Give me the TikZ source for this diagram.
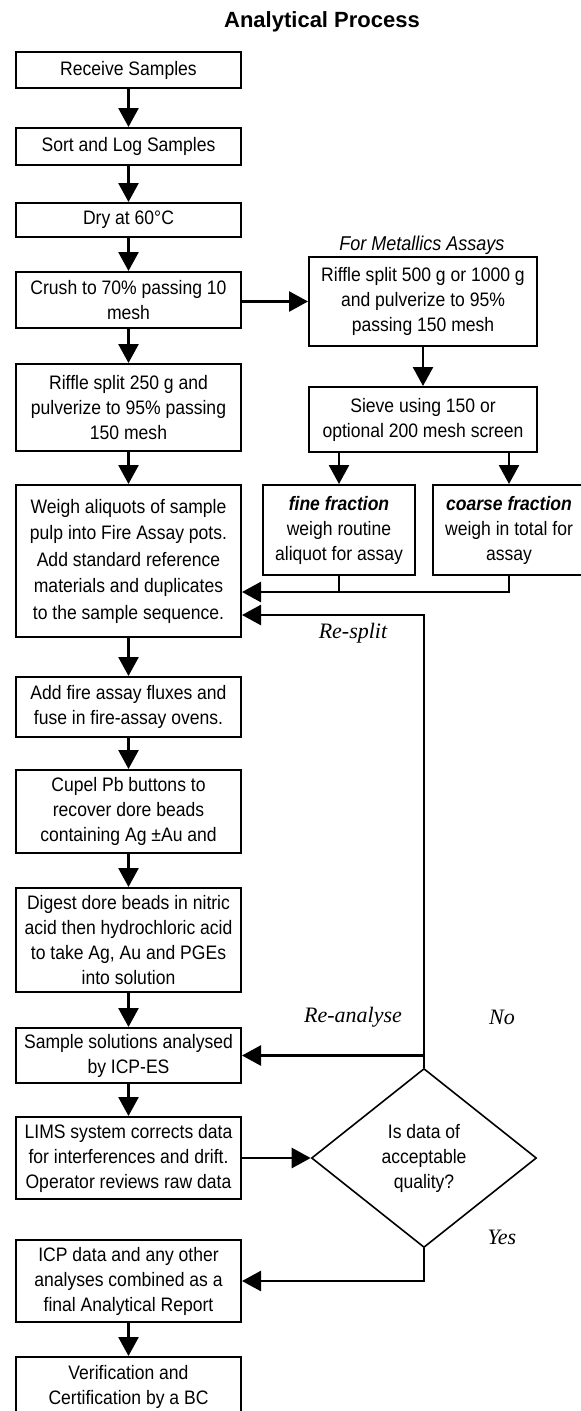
\documentclass[tikz,border=0pt]{standalone}
\usepackage{fontspec}
\setmainfont{Liberation Sans}[FakeStretch=0.9]
\newfontfamily\titlefont{Liberation Sans}
\newfontfamily\labfont{Liberation Serif}
\usetikzlibrary{shapes.geometric,arrows.meta}
\begin{document}
\begin{tikzpicture}[x=1pt,y=-1pt,
  box/.style={draw,line width=2pt,rectangle,minimum width=225pt,inner sep=0pt,align=center,
    font=\fontsize{19.5}{25}\selectfont},
  dia/.style={draw,line width=1.6pt,diamond,aspect=1.26,minimum width=225pt,minimum height=179pt,
    inner sep=0pt,align=center,font=\fontsize{19.5}{25}\selectfont},
  arr/.style={line width=2.6pt,-{Triangle[width=20pt,length=19pt]}},
  ln/.style={line width=2.6pt},
  lab/.style={font=\labfont\itshape\fontsize{22}{26}\selectfont}]
\useasboundingbox (0,0) rectangle (581,1411);

\node[font=\titlefont\bfseries\fontsize{22}{26}\selectfont] (title) at (322,22) {Analytical Process};

\node[box,minimum height=36pt] (b1) at (128.5,70) {Receive Samples};
\node[box,minimum height=37pt] (b2) at (128.5,146.5) {Sort and Log Samples};
\node[box,minimum height=34pt] (b3) at (128.5,220) {Dry at 60°C};
\node[box,minimum height=56pt] (b4) at (128.5,300) {Crush to 70\% passing 10\\mesh};
\node[box,minimum height=87pt] (b5) at (128.5,407.5) {Riffle split 250 g and\\pulverize to 95\% passing\\150 mesh};
\node[box,minimum height=152pt,font=\fontsize{19.5}{26.5}\selectfont] (b6) at (128.5,561) {Weigh aliquots of sample\\pulp into Fire Assay pots.\\Add standard reference\\materials and duplicates\\to the sample sequence.};
\node[box,minimum height=60pt] (b7) at (128.5,707) {Add fire assay fluxes and\\fuse in fire-assay ovens.};
\node[box,minimum height=83pt] (b8) at (128.5,811.5) {Cupel Pb buttons to\\recover dore beads\\containing Ag ±Au and};
\node[box,minimum height=104pt] (b9) at (128.5,940) {Digest dore beads in nitric\\acid then hydrochloric acid\\to take Ag, Au and PGEs\\into solution};
\node[box,minimum height=55pt] (b10) at (128.5,1055.5) {Sample solutions analysed\\by ICP-ES};
\node[box,minimum height=82pt] (b11) at (128.5,1158) {LIMS system corrects data\\for interferences and drift.\\Operator reviews raw data};
\node[box,minimum height=82pt] (b12) at (128.5,1281) {ICP data and any other\\analyses combined as a\\final Analytical Report};
\node[box,minimum height=60pt,anchor=north] (b13) at (128.5,1356) {Verification and\\Certification by a BC};

\node[font=\itshape\fontsize{20}{24}\selectfont] (meta) at (422,245) {For Metallics Assays};
\node[box,minimum width=228pt,minimum height=89pt] (r1) at (423,301.5) {Riffle split 500 g or 1000 g\\and pulverize to 95\%\\passing 150 mesh};
\node[box,minimum width=228pt,minimum height=65pt] (r2) at (423,419.5) {Sieve using 150 or\\optional 200 mesh screen};
\node[box,minimum width=152pt,minimum height=90pt] (fine) at (339,530) {\textbf{\textit{fine fraction}}\\weigh routine\\aliquot for assay};
\node[box,minimum width=152pt,minimum height=90pt] (coarse) at (509,530) {\textbf{\textit{coarse fraction}}\\weigh in total for\\assay};

\node[dia] (d) at (424,1158) {Is data of\\acceptable\\quality?};

\coordinate (j1) at (241,592);
\coordinate (j2) at (241,615);

\draw[arr] (b1) -- (b2);
\draw[arr] (b2) -- (b3);
\draw[arr] (b3) -- (b4);
\draw[arr] (b4) -- (b5);
\draw[arr] (b5) -- (b6);
\draw[arr] (b6) -- (b7);
\draw[arr] (b7) -- (b8);
\draw[arr] (b8) -- (b9);
\draw[arr] (b9) -- (b10);
\draw[arr] (b10) -- (b11);
\draw[arr] (b12) -- (b13);

\draw[arr] (b4.east |- r1.west) -- (r1.west);
\draw[arr] (r1) -- (r2);
\draw[arr] (r2.south -| fine.north) -- (fine.north);
\draw[arr] (r2.south -| coarse.north) -- (coarse.north);
\draw[ln] (fine.south) -- (fine.south |- j1);
\draw[arr] (coarse.south) |- (b6.east |- j1);

\draw[arr] (d.north) -- (d.north |- j2) -- (b6.east |- j2);
\draw[arr] (d.north |- b10.east) -- (b10.east);
\draw[arr] (b11.east) -- (d.west);
\draw[arr] (d.south) |- (b12.east);

\node[lab] (ls) at (353,633) {Re-split};
\node[lab] (la) at (353,1017) {Re-analyse};
\node[lab] (ln) at (502,1017) {No};
\node[lab] (ly) at (502,1237) {Yes};
\end{tikzpicture}
\end{document}
